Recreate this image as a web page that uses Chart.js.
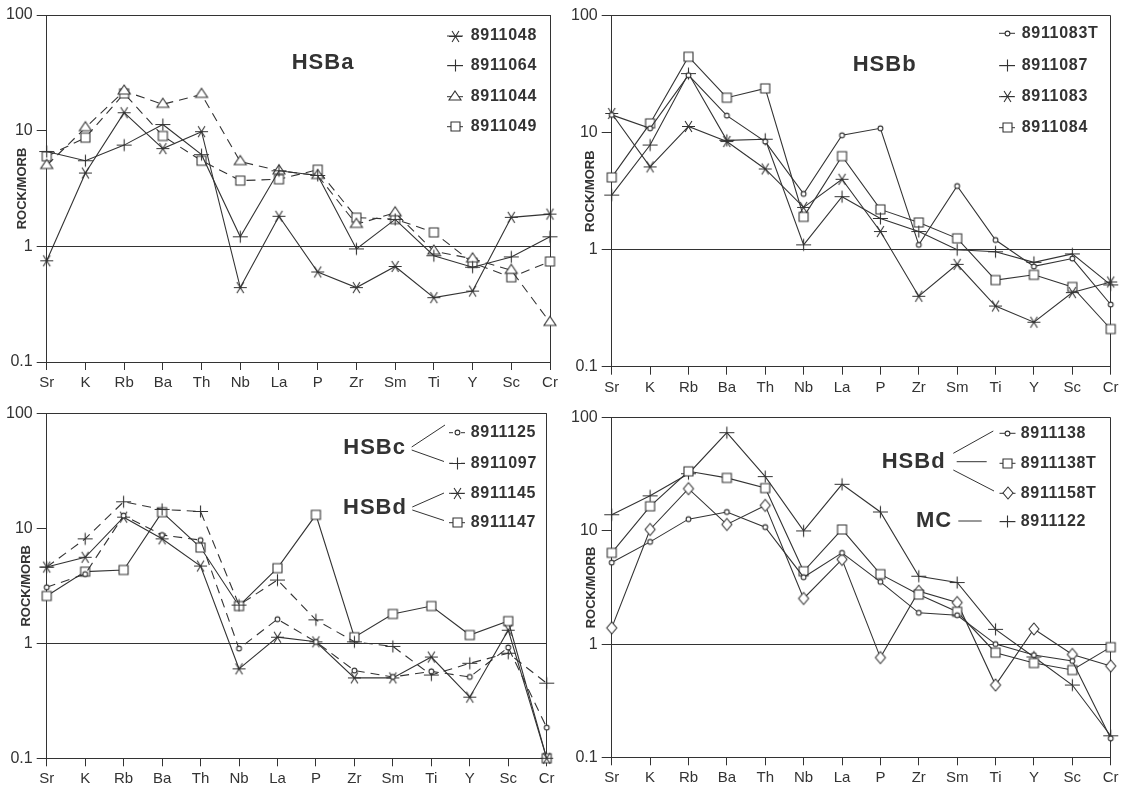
<!DOCTYPE html>
<html><head><meta charset="utf-8">
<script src="https://cdn.jsdelivr.net/npm/chart.js@4.4.1/dist/chart.umd.min.js"></script>
<style>
html,body{margin:0;padding:0;background:#fff;}
body{width:1133px;height:789px;position:relative;overflow:hidden;}
canvas{position:absolute;}
</style></head><body>
<canvas id="c1" width="565" height="395" style="left:0px;top:0px"></canvas>
<canvas id="c2" width="568" height="395" style="left:565px;top:0px"></canvas>
<canvas id="c3" width="565" height="394" style="left:0px;top:395px"></canvas>
<canvas id="c4" width="568" height="394" style="left:565px;top:395px"></canvas>
<script>
// ---------- DATA ----------
const elements = ['Sr','K','Rb','Ba','Th','Nb','La','P','Zr','Sm','Ti','Y','Sc','Cr'];
const yTickValues = [0.1, 1, 10, 100];
const yAxisTitle = 'ROCK/MORB';

// Panel 1 : HSBa
const hsba_8911048 = [0.75, 4.3, 14.3, 7.0, 9.8, 0.44, 1.82, 0.60, 0.44, 0.67, 0.36, 0.41, 1.78, 1.90];
const hsba_8911064 = [6.6, 5.5, 7.5, 11.3, 6.2, 1.21, 4.5, 4.1, 0.95, 1.71, 0.83, 0.66, 0.81, 1.21];
const hsba_8911044 = [5.0, 10.6, 22, 16.9, 20.6, 5.4, 4.5, 4.1, 1.55, 1.95, 0.91, 0.78, 0.62, 0.22];
const hsba_8911049 = [6.0, 8.7, 21, 9.0, 5.5, 3.7, 3.8, 4.6, 1.77, 1.72, 1.32, 0.72, 0.54, 0.74];

// Panel 2 : HSBb
const hsbb_8911083T = [14.2, 10.9, 31, 14, 8.4, 3.0, 9.5, 10.9, 1.1, 3.5, 1.21, 0.72, 0.84, 0.34];
const hsbb_8911087  = [2.93, 7.85, 32, 8.6, 8.8, 1.1, 2.84, 1.85, 1.43, 1.0, 0.96, 0.78, 0.92, 0.5];
const hsbb_8911083  = [14.6, 5.1, 11.3, 8.4, 4.9, 2.3, 4.0, 1.43, 0.40, 0.75, 0.33, 0.24, 0.43, 0.53];
const hsbb_8911084  = [4.15, 12, 44.6, 19.9, 23.9, 1.91, 6.3, 2.21, 1.71, 1.25, 0.55, 0.61, 0.48, 0.21];

// Panel 3 : HSBc / HSBd
const p3_8911125 = [3.07, 4.0, 12.9, 8.75, 7.9, 0.9, 1.62, 1.03, 0.58, 0.51, 0.57, 0.51, 0.92, 0.185];
const p3_8911097 = [4.6, 8.1, 17, 14.6, 14, 2.15, 3.55, 1.6, 1.03, 0.94, 0.53, 0.67, 0.82, 0.45];
const p3_8911145 = [4.6, 5.6, 12.5, 8.1, 4.7, 0.6, 1.13, 1.03, 0.50, 0.50, 0.76, 0.34, 1.3, 0.1];
const p3_8911147 = [2.58, 4.2, 4.34, 13.8, 6.8, 2.11, 4.5, 13.1, 1.13, 1.8, 2.11, 1.18, 1.56, 0.1];

// Panel 4 : HSBd / MC
const p4_8911138  = [5.25, 8.0, 12.7, 14.7, 10.8, 3.9, 6.4, 3.55, 1.89, 1.8, 1.0, 0.8, 0.71, 0.147];
const p4_8911138T = [6.4, 16.5, 33.6, 29.4, 23.9, 4.4, 10.3, 4.15, 2.74, 1.93, 0.84, 0.68, 0.59, 0.94];
const p4_8911158T = [1.39, 10.3, 23.6, 11.4, 16.8, 2.53, 5.6, 0.76, 2.93, 2.33, 0.435, 1.36, 0.81, 0.64];
const p4_8911122  = [13.9, 20.4, 32, 73.8, 30.2, 10, 25.8, 14.7, 3.98, 3.5, 1.35, 0.77, 0.435, 0.155];

// ---------- STYLE ----------
const INK = '#333333';
const FONT = '"Liberation Sans", Arial, Helvetica, sans-serif';
const CLEAR = 'rgba(0,0,0,0)';

function mk(w, h, draw) {
  const c = document.createElement('canvas');
  c.width = w; c.height = h;
  const x = c.getContext('2d');
  x.strokeStyle = INK; x.fillStyle = '#fff'; x.lineWidth = 1.1;
  draw(x);
  return c;
}
const M = {
  asterisk: mk(15, 15, x => {
    x.beginPath();
    for (const a of [0, 58, 122]) {
      const r = a * Math.PI / 180;
      x.moveTo(7.5 - 6.5 * Math.cos(r), 7.5 - 6.5 * Math.sin(r));
      x.lineTo(7.5 + 6.5 * Math.cos(r), 7.5 + 6.5 * Math.sin(r));
    }
    x.stroke();
  }),
  plus: mk(17, 15, x => {
    x.beginPath(); x.moveTo(1, 7.5); x.lineTo(16, 7.5); x.moveTo(8.5, 1.5); x.lineTo(8.5, 13.5); x.stroke();
  }),
  triangle: mk(16, 16, x => {
    x.beginPath(); x.moveTo(8, 2); x.lineTo(14, 11); x.lineTo(2, 11); x.closePath(); x.fill(); x.stroke();
  }),
  square: mk(13, 13, x => {
    x.beginPath(); x.rect(2, 2, 9, 9); x.fill(); x.stroke();
  }),
  circle: mk(9, 9, x => {
    x.beginPath(); x.arc(4.5, 4.5, 2.4, 0, Math.PI * 2); x.fill(); x.stroke();
  }),
  diamond: mk(14, 16, x => {
    x.beginPath(); x.moveTo(7, 2); x.lineTo(12, 8); x.lineTo(7, 14); x.lineTo(2, 8); x.closePath(); x.fill(); x.stroke();
  })
};

function legendPlugin(spec) {
  return {
    id: 'customLegend',
    afterDraw(chart) {
      const ctx = chart.ctx;
      ctx.save();
      ctx.strokeStyle = INK; ctx.fillStyle = INK; ctx.lineWidth = 1;
      ctx.beginPath();
      for (const l of spec.links) { ctx.moveTo(l[0], l[1]); ctx.lineTo(l[2], l[3]); }
      ctx.stroke();
      ctx.font = 'bold 22px ' + FONT;
      ctx.textBaseline = 'middle'; ctx.textAlign = 'left';
      try { ctx.letterSpacing = '1px'; } catch (e) {}
      for (const g of spec.groups) ctx.fillText(g.text, g.x, g.y);
      ctx.font = 'bold 16px ' + FONT;
      try { ctx.letterSpacing = '0.7px'; } catch (e) {}
      chart.data.datasets.forEach((ds, i) => {
        const y = spec.itemY[i];
        const mx = spec.markerX;
        ctx.beginPath();
        ctx.setLineDash([]);
        if (ds.borderDash && ds.borderDash.length) {
          ctx.moveTo(mx - 8, y); ctx.lineTo(mx - 4, y);
          ctx.moveTo(mx + 4, y); ctx.lineTo(mx + 8, y);
        } else {
          ctx.moveTo(mx - 8, y); ctx.lineTo(mx + 8, y);
        }
        ctx.stroke();
        const img = ds.pointStyle;
        ctx.drawImage(img, Math.round(mx - img.width / 2), Math.round(y - img.height / 2));
        ctx.fillText(ds.label, spec.textX, y);
      });
      ctx.restore();
    }
  };
}

function series(label, data, marker, dashed) {
  return {
    label, data,
    borderColor: INK, borderWidth: 1.1,
    borderDash: dashed ? [9, 6] : [],
    pointStyle: M[marker], pointRadius: 6, pointHoverRadius: 6,
    fill: false, tension: 0, clip: false
  };
}

function makePanel(id, g, datasets, spec) {
  const canvas = document.getElementById(id);
  const W = canvas.width, H = canvas.height;
  new Chart(canvas, {
    type: 'line',
    data: { labels: elements, datasets },
    options: {
      responsive: false, animation: false, devicePixelRatio: 1,
      layout: { padding: { left: 0, top: g.T, right: W - g.R, bottom: 0 } },
      plugins: { legend: { display: false }, tooltip: { enabled: false } },
      scales: {
        x: {
          type: 'category', offset: false,
          grid: {
            color: c => (c.index === elements.length - 1 ? INK : CLEAR),
            tickColor: INK, tickLength: 8, lineWidth: 1
          },
          border: { color: INK, width: 1 },
          ticks: { color: INK, font: { family: FONT, size: 15 }, padding: 4, maxRotation: 0, autoSkip: false },
          afterFit(s) { s.height = H - g.B; s.paddingLeft = 0; s.paddingRight = 0; }
        },
        y: {
          type: 'logarithmic', min: 0.1, max: 100,
          afterBuildTicks(s) { s.ticks = yTickValues.map(v => ({ value: v })); },
          grid: {
            color: c => (c.tick && (c.tick.value === 1 || c.tick.value === 100) ? INK : CLEAR),
            tickColor: INK, tickLength: 10, lineWidth: 1
          },
          border: { color: INK, width: 1 },
          ticks: { color: INK, font: { family: FONT, size: 16 }, padding: 4, callback: v => String(v) },
          title: { display: true, text: yAxisTitle, color: INK, padding: { top: g.titleOff, bottom: 0 }, font: { family: FONT, size: 13, weight: 'bold' } },
          afterFit(s) { s.width = g.L; s.paddingTop = 0; s.paddingBottom = 0; }
        }
      }
    },
    plugins: [legendPlugin(spec)]
  });
}

makePanel('c1', { L: 46.7, T: 15, R: 550, B: 362, titleOff: 14.9 }, [
  series('8911048', hsba_8911048, 'asterisk', false),
  series('8911064', hsba_8911064, 'plus', false),
  series('8911044', hsba_8911044, 'triangle', true),
  series('8911049', hsba_8911049, 'square', true)
], { groups: [{ text: 'HSBa', x: 291.7, y: 63 }], links: [], itemY: [36, 65.7, 96.7, 126.7], markerX: 455, textX: 470.7 });

makePanel('c2', { L: 46.7, T: 15.7, R: 545.7, B: 366.7, titleOff: 17.2 }, [
  series('8911083T', hsbb_8911083T, 'circle', false),
  series('8911087', hsbb_8911087, 'plus', false),
  series('8911083', hsbb_8911083, 'asterisk', false),
  series('8911084', hsbb_8911084, 'square', false)
], { groups: [{ text: 'HSBb', x: 287.7, y: 65 }], links: [], itemY: [33.3, 65.7, 96.7, 127.7], markerX: 442, textX: 456.7 });

makePanel('c3', { L: 46.7, T: 18.3, R: 546.7, B: 363.3, titleOff: 18.4 }, [
  series('8911125', p3_8911125, 'circle', true),
  series('8911097', p3_8911097, 'plus', true),
  series('8911145', p3_8911145, 'asterisk', false),
  series('8911147', p3_8911147, 'square', false)
], {
  groups: [{ text: 'HSBc', x: 343.3, y: 53.3 }, { text: 'HSBd', x: 343, y: 113.3 }],
  links: [[411.7, 52, 445, 30], [411.7, 55, 444, 66.5], [412.3, 112, 444, 98], [412.3, 115, 444, 125.5]],
  itemY: [37.7, 68.3, 98.3, 127.7], markerX: 457, textX: 470.7
});

makePanel('c4', { L: 46.7, T: 22.7, R: 545.7, B: 362.3, titleOff: 18.9 }, [
  series('8911138', p4_8911138, 'circle', false),
  series('8911138T', p4_8911138T, 'square', false),
  series('8911158T', p4_8911158T, 'diamond', false),
  series('8911122', p4_8911122, 'plus', false)
], {
  groups: [{ text: 'HSBd', x: 316.7, y: 66.7 }, { text: 'MC', x: 351, y: 126 }],
  links: [[388.3, 58.3, 428.3, 36], [391.7, 66.7, 421.7, 66.7], [388.3, 75, 429, 96], [393.3, 126, 416.7, 126]],
  itemY: [38.3, 68.3, 98.3, 126.7], markerX: 442.5, textX: 455.7
});
</script>
</body></html>
